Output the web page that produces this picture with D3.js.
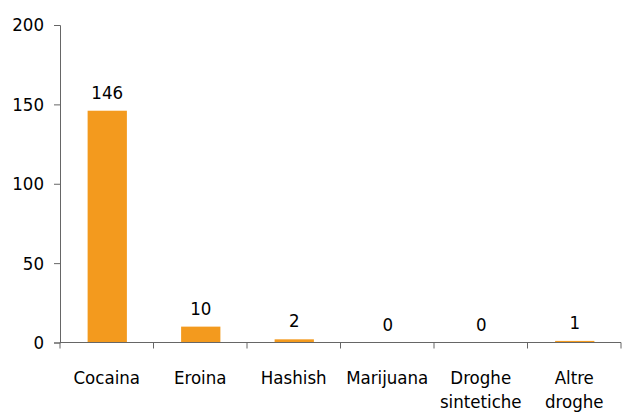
<!DOCTYPE html>
<html><head><meta charset="utf-8">
<script src="https://cdn.jsdelivr.net/npm/d3@7"></script>
<style>body{margin:0;background:#fff}svg{display:block}text{font-family:"DejaVu Sans Condensed","DejaVu Sans",sans-serif}</style>
</head><body>
<svg id="c" width="623" height="412"></svg>
<script>
const categories = [["Cocaina"],["Eroina"],["Hashish"],["Marijuana"],["Droghe","sintetiche"],["Altre","droghe"]];
const values = [146, 10, 2, 0, 0, 1];
const yTicks = [0, 50, 100, 150, 200];

const svg = d3.select("#c");
const x = d3.scaleBand().domain(categories.map((d,i)=>i)).range([60, 621]);
const y = d3.scaleLinear().domain([0, 200]).range([342.5, 25]);
const fs = 18.5;
const ff = "'DejaVu Sans Condensed','DejaVu Sans',sans-serif";
const axisColor = "#666";

// bars
const bw = x.bandwidth() * 0.42;
svg.selectAll("rect.bar").data(values).join("rect")
  .attr("x", (d,i) => x(i) + x.bandwidth()/2 - bw/2 + 0.5)
  .attr("y", d => y(d))
  .attr("width", bw)
  .attr("height", d => y(0) - y(d))
  .attr("fill", "#F39A1E");

// value labels
svg.selectAll("text.val").data(values).join("text")
  .attr("x", (d,i) => x(i) + x.bandwidth()/2 + 0.5)
  .attr("y", d => y(d) - 12)
  .attr("text-anchor", "middle").attr("font-size", fs).attr("fill", "#000")
  .text(d => d);

// y axis
const yAxis = d3.axisLeft(y).tickValues(yTicks).tickSize(6).tickPadding(10);
const gy = svg.append("g").attr("transform", "translate(60,0)").call(yAxis);
gy.attr("font-family", ff).attr("font-size", fs);
gy.select(".domain").attr("stroke", axisColor);
gy.selectAll(".tick line").attr("stroke", axisColor);
gy.selectAll(".tick text").attr("fill", "#000");

// x axis
const gx = svg.append("g").attr("transform", `translate(0,${y(0)})`);
gx.append("line").attr("x1", 60).attr("x2", 621).attr("stroke", axisColor);
const edges = categories.map((d,i)=>x(i)).concat([x(categories.length-1)+x.bandwidth()]);
gx.selectAll("line.t").data(edges).join("line")
  .attr("x1", d=>d).attr("x2", d=>d).attr("y1", 0).attr("y2", 6).attr("stroke", axisColor);

const lbl = svg.selectAll("text.cat").data(categories).join("text")
  .attr("text-anchor", "middle").attr("font-size", fs).attr("fill", "#000");
lbl.each(function(d,i){
  const t = d3.select(this);
  d.forEach((line,j)=>{
    t.append("tspan").attr("x", x(i) + x.bandwidth()/2).attr("y", 384 + j*24).text(line);
  });
});
</script>
</body></html>
